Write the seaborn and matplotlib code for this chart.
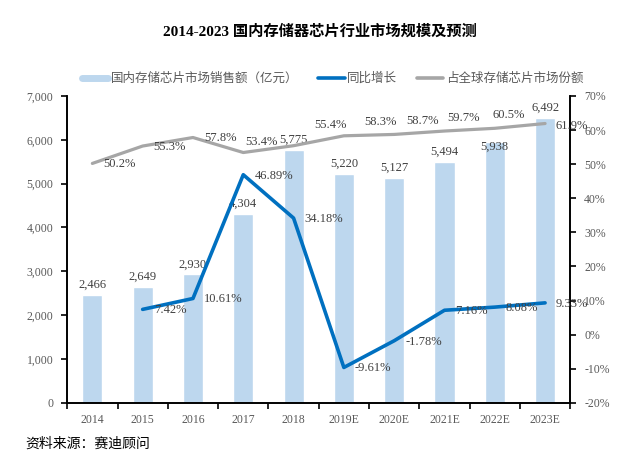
import pandas as pd
import seaborn as sns
import matplotlib.pyplot as plt
from matplotlib.lines import Line2D
from matplotlib.ticker import FuncFormatter

sns.set_style("ticks")
plt.rcParams['font.family'] = ['Liberation Serif', 'Noto Sans CJK SC']
plt.rcParams['axes.unicode_minus'] = False

# data
years = ['2014', '2015', '2016', '2017', '2018',
         '2019E', '2020E', '2021E', '2022E', '2023E']
sales = [2466, 2649, 2930, 4304, 5775, 5220, 5127, 5494, 5938, 6492]   # 亿元
growth = [None, 7.42, 10.61, 46.89, 34.18, -9.61, -1.78, 7.16, 8.08, 9.33]  # %
share = [50.2, 55.3, 57.8, 53.4, 55.4, 58.3, 58.7, 59.7, 60.5, 61.9]   # %

df = pd.DataFrame({'year': years, 'sales': sales,
                   'growth': growth, 'share': share})

BAR = '#BDD7EE'
BLUE = '#0070C0'
GRAY = '#A6A6A6'
TICK = '#595959'
LABEL = '#404040'

fig = plt.figure(figsize=(6.4, 4.61), dpi=100)
ax = fig.add_axes([0.105, 0.126, 0.786, 0.666])

sns.barplot(data=df, x='year', y='sales', color=BAR, width=0.4,
            saturation=1, ax=ax)
ax.set_xlim(-0.5, len(years) - 0.5)
ax.set_ylim(0, 7000)
ax.set_yticks(range(0, 7001, 1000))
ax.yaxis.set_major_formatter(FuncFormatter(lambda v, p: f'{int(v):,}'))
ax.set_xlabel('')
ax.set_ylabel('')

# bar value labels (5,938 sits lower in the reference)
bar_dy = [10, 10, 10, 10, 10, 10, 10, 10, -4, 10]
for i, p in enumerate(ax.patches):
    ax.annotate(f'{sales[i]:,}', (p.get_x() + p.get_width() / 2, p.get_height()),
                xytext=(0, bar_dy[i]), textcoords='offset pixels',
                ha='center', va='center', fontsize=9, color=LABEL)

ax2 = ax.twinx()
sns.lineplot(data=df, x='year', y='share', color=GRAY, linewidth=2.3,
             sort=False, ax=ax2)
sns.lineplot(data=df.dropna(), x='year', y='growth', color=BLUE, linewidth=2.6,
             sort=False, ax=ax2)
ax2.set_ylim(-20, 70)
ax2.set_yticks(range(-20, 71, 10))
ax2.yaxis.set_major_formatter(FuncFormatter(lambda v, p: f'{int(v)}%'))
ax2.set_xlabel('')
ax2.set_ylabel('')

share_off = [(11, -1), (11, -1), (11, 0), (2, 11), (21, 21),
             (20, 14), (12, 13), (3, 13), (-2, 13), (10, -2)]
for i, v in enumerate(share):
    ax2.annotate(f'{v}%', (i, v), xytext=share_off[i], textcoords='offset pixels',
                 ha='left', va='center', fontsize=9, color=LABEL)
for i, v in enumerate(growth):
    if v is None:
        continue
    ax2.annotate(f'{v:.2f}%', (i, v), xytext=(11, -1), textcoords='offset pixels',
                 ha='left', va='center', fontsize=9, color=LABEL)

# axis styling: category labels centred, tick marks between categories
for a in (ax, ax2):
    a.spines['top'].set_visible(False)
    for s in ('left', 'right', 'bottom'):
        a.spines[s].set_color('black')
        a.spines[s].set_linewidth(1.2)
ax.set_xticks(range(len(years)))
ax.set_xticklabels(years)
ax.set_xticks([i - 0.5 for i in range(len(years) + 1)], minor=True)
ax.tick_params(axis='x', which='major', length=0, pad=8, labelsize=8.5,
               labelcolor=TICK)
ax.tick_params(axis='x', which='minor', length=4, width=1.2, color='black')
ax.tick_params(axis='y', length=4, width=1.2, color='black', labelsize=8.5,
               labelcolor=TICK, pad=6)
ax2.tick_params(axis='y', length=4, width=1.2, color='black', labelsize=8.5,
                labelcolor=TICK, pad=6)

fig.text(0.5, 1 - 31 / 461, '2014-2023 国内存储器芯片行业市场规模及预测',
         ha='center', va='center', fontsize=11, fontweight='bold', color='black')

handles = [Line2D([], [], color=BAR, linewidth=5),
           Line2D([], [], color=BLUE, linewidth=2.6),
           Line2D([], [], color=GRAY, linewidth=2.6)]
labels = ['国内存储芯片市场销售额（亿元）', '同比增长', '占全球存储芯片市场份额']
fig.legend(handles, labels, loc='center', bbox_to_anchor=(0.52, 1 - 79 / 461),
           ncol=3, frameon=False, fontsize=9, handlelength=2.1,
           handletextpad=0.2, columnspacing=1.6, labelcolor=TICK)

fig.text(25 / 640, 1 - 444 / 461, '资料来源：赛迪顾问', ha='left', va='center',
         fontsize=10, color='black')

fig.savefig('out.png', dpi=100)
